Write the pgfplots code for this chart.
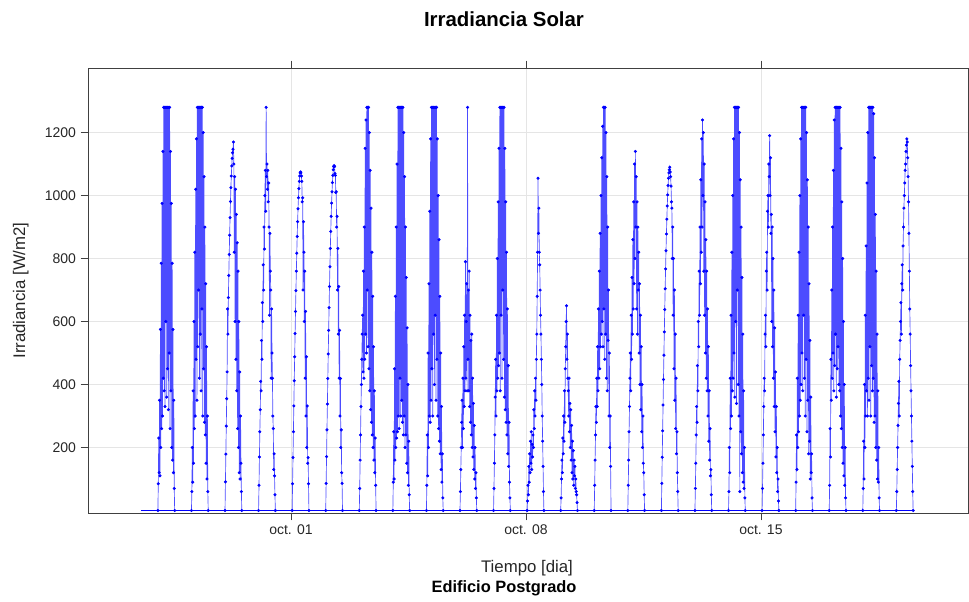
\documentclass[border=0pt]{standalone}
\usepackage{pgfplots}
\usepackage{pgfplotstable}
\pgfplotsset{compat=1.18}
\usepackage{fontspec}
\setmainfont{Liberation Sans}

% one row per day (c0 = 27 Sep ... c22 = 19 Oct); f = fraction of the day of each reading
\pgfplotstableread{
day k0 k1 k2 k3 k4 k5 k6 k7 k8 k9 k10 k11 k12 k13 k14 k15 k16 k17 k18 k19 k20 k21 k22 k23 k24 k25 k26 k27 k28 k29 k30 k31 k32 k33 k34 k35 k36 k37 k38 k39 k40
f 0.035 0.0475 0.06 0.0725 0.085 0.0975 0.11 0.1225 0.135 0.1475 0.16 0.1725 0.185 0.1975 0.21 0.2225 0.235 0.2475 0.26 0.2725 0.285 0.2975 0.31 0.3225 0.335 0.3475 0.36 0.3725 0.385 0.3975 0.41 0.4225 0.435 0.4475 0.46 0.4725 0.485 0.4975 0.51 0.5225 0.535
c0 0 85 230 120 350 110 575 200 785 260 975 300 1140 420 1280 380 1280 330 1280 600 1280 360 1280 450 1280 320 1280 500 1280 260 1140 380 975 200 785 160 575 120 350 70 0
c1 0 60 200 90 380 150 600 260 820 300 1020 480 1180 350 1280 520 1280 700 1280 420 1280 560 1280 380 1280 640 1280 300 1200 450 1060 280 900 240 720 150 520 100 300 60 0
c2 0 91 179 268 355 440 640 560 676 746 813 874 930 981 1025 1062 1094 1118 1136 1147 1170 1100 820 1060 600 1020 480 940 380 850 260 760 200 600 120 440 100 300 150 60 0
c3 0 80 170 250 320 410 380 540 480 660 600 780 700 900 830 1000 1080 950 1280 1060 1100 1020 1080 980 1040 900 620 880 760 700 420 640 500 420 300 260 130 180 110 50 0
c4 0 85 168 250 332 412 488 562 632 698 760 817 870 917 958 993 1022 1045 1062 1072 1075 1072 1062 1045 980 993 700 917 820 600 760 420 632 300 488 200 332 150 168 85 0
c5 0 86 171 256 338 419 497 572 644 711 774 832 886 934 976 1012 1041 1064 1082 1092 1095 1092 1070 1064 1010 1012 900 934 700 832 560 711 420 572 300 419 200 256 120 86 0
c6 0 70 160 240 330 400 480 560 620 440 760 420 900 480 1150 560 1240 500 1280 700 1280 520 1280 450 1200 380 1080 320 960 280 820 240 680 200 520 160 380 120 230 80 0
c7 0 90 250 100 450 160 680 200 900 230 1100 250 1280 300 1280 260 1280 420 1280 300 1280 350 1280 280 1280 240 1200 300 1060 200 900 240 740 150 580 120 400 80 220 50 0
c8 0 80 240 110 500 200 720 300 950 280 1180 350 1280 450 1280 300 1280 560 1280 400 1280 620 1280 350 1280 480 1180 300 1000 260 860 220 680 180 500 130 330 90 180 40 0
c9 0 60 130 200 280 350 200 420 260 520 330 620 380 790 420 600 720 380 1280 480 700 380 760 330 620 280 540 240 560 200 420 170 340 130 270 100 200 70 120 40 0
c10 0 70 150 240 360 480 300 620 380 800 420 980 460 1150 500 1280 380 1280 620 1280 420 1280 700 1280 480 1280 360 1150 320 980 280 820 240 640 180 460 140 280 90 40 0
c11 0 30 80 50 140 90 180 120 220 150 250 130 210 170 240 200 320 260 380 300 420 350 480 560 680 820 1055 880 960 820 780 700 620 560 480 400 300 220 140 60 0
c12 0 40 100 160 120 230 180 300 220 380 280 450 520 600 650 480 560 420 380 300 420 250 340 200 320 160 270 120 220 100 190 80 160 110 140 70 100 60 50 25 0
c13 0 80 160 240 330 280 420 330 520 380 640 420 760 450 880 520 1000 560 1120 600 1220 520 1280 640 1280 480 1280 560 1200 420 1060 380 900 540 700 300 500 200 300 140 0
c14 0 80 160 250 330 420 500 380 620 480 740 560 860 640 980 720 1100 800 1140 900 1060 640 980 560 900 700 820 500 720 400 620 320 520 250 400 200 300 150 120 50 0
c15 0 86 169 253 335 416 493 567 638 704 767 825 878 925 967 1002 1032 1055 1072 1082 1090 1075 1060 1030 980 960 800 900 620 800 450 700 350 560 260 420 180 250 120 60 0
c16 0 70 150 240 330 280 460 380 600 520 760 620 900 720 1050 820 1180 900 1240 1000 1200 760 1100 620 980 500 860 420 760 380 640 300 520 220 380 160 260 110 130 50 0
c17 0 60 200 120 420 260 620 300 820 380 1000 420 1180 500 1280 360 1280 600 1280 340 1280 700 1280 400 1280 300 1200 60 1050 250 900 180 740 120 560 90 380 70 200 40 0
c18 0 70 150 240 330 420 380 560 620 520 760 820 700 950 1000 900 1100 1060 1190 1000 1120 880 940 600 900 520 800 420 700 330 580 250 440 170 330 120 200 60 100 30 0
c19 0 90 240 130 420 200 620 250 820 300 1000 350 1180 400 1280 500 1280 380 1280 620 1280 420 1280 300 1280 480 1200 250 1050 350 900 180 720 220 540 100 360 120 180 40 0
c20 0 80 260 170 480 350 700 420 900 500 1080 380 1240 460 1280 560 1280 360 1280 450 1280 520 1280 400 1280 380 1280 300 1150 260 980 200 800 150 600 110 400 80 200 40 0
c21 0 70 220 100 400 200 620 300 840 380 1040 300 1200 420 1280 350 1280 520 1280 300 1280 460 1280 380 1280 420 1260 280 1120 300 940 200 760 160 560 100 380 90 200 40 0
c22 0 60 130 200 270 340 410 300 480 540 600 660 560 720 780 700 840 900 960 1000 1040 1080 1100 1140 1160 1180 1170 1120 1060 980 880 760 640 560 460 380 300 220 140 60 0
}\rawtab
\pgfplotstabletranspose[colnames from=day]{\daytab}{\rawtab}

\begin{document}
\begin{tikzpicture}
\useasboundingbox (0,0) rectangle (726.75pt,450.75pt);
\begin{axis}[
  at={(66pt,66pt)}, anchor=south west, scale only axis,
  width=660pt, height=333.75pt,
  xmin=-6.047, xmax=20.17, ymin=-8, ymax=1405,
  xtick={0,7,14}, xticklabels={oct. 01,oct. 08,oct. 15},
  ytick={200,400,600,800,1000,1200},
  scaled y ticks=false,
  /pgf/number format/1000 sep={},
  /pgf/number format/assume math mode=true,
  tick align=outside, xtick pos=both, xticklabel pos=lower, ytick pos=left,
  major tick length=5.5pt,
  grid=major, grid style={black!10, line width=0.6pt},
  axis line style={black!75, line width=0.6pt},
  tick style={black!75, line width=0.6pt},
  tick label style={font=\fontsize{10.5}{12}\selectfont, text=black!85},
]
\addplot[draw=blue, line width=1pt, no marks] coordinates {(-4.47,0) (18.54,0)};
\pgfplotsinvokeforeach{0,...,22}{
  \addplot[draw=blue!70, line width=0.5pt, no marks]
    table[x expr=\thisrow{f}+#1-4, y=c#1] {\daytab};
  \addplot[only marks, mark=*, mark size=0.95pt, draw=blue, fill=blue,
    mark options={draw=blue, fill=blue}]
    table[x expr=\thisrow{f}+#1-4, y=c#1] {\daytab};
}
\end{axis}
\node[anchor=base, font=\bfseries\fontsize{15.3}{18}\selectfont] at (378pt,430.7pt) {Irradiancia Solar};
\node[anchor=base, font=\fontsize{12.6}{15}\selectfont, text=black!85] at (395.25pt,21.5pt) {Tiempo [dia]};
\node[anchor=base, font=\bfseries\fontsize{12.3}{15}\selectfont] at (378pt,6.75pt) {Edificio Postgrado};
\node[anchor=base, rotate=90, font=\fontsize{12.6}{15}\selectfont, text=black!85] at (18.75pt,232.9pt) {Irradiancia [W/m2]};
\end{tikzpicture}
\end{document}
